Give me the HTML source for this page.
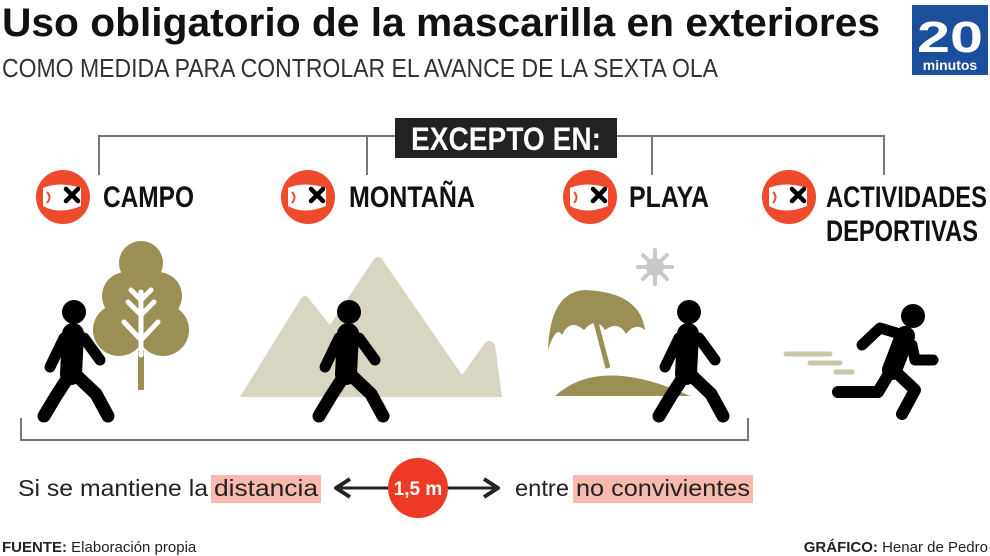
<!DOCTYPE html>
<html><head><meta charset="utf-8"><style>
body{margin:0;width:990px;height:556px;background:#fff;overflow:hidden;font-family:"Liberation Sans",sans-serif;}
svg{position:absolute;left:0;top:0}
</style></head><body>
<svg width="990" height="556" viewBox="0 0 990 556" xmlns="http://www.w3.org/2000/svg">
<defs>
<g id="walker">
 <circle cx="0" cy="0" r="12" fill="#000"/>
 <g stroke="#000" stroke-linecap="round" stroke-linejoin="round" fill="none">
  <line x1="-1" y1="22" x2="-3" y2="62" stroke-width="22"/>
  <polyline points="-10,26 -24,55" stroke-width="11"/>
  <polyline points="10,26 26,48" stroke-width="11"/>
  <polyline points="-5,64 -18,84 -30,104" stroke-width="13"/>
  <polyline points="3,64 22,82 34,104" stroke-width="13"/>
 </g>
</g>
<g id="mask">
 <circle cx="0" cy="0" r="27" fill="#ee4a2c"/>
 <path d="M-20,-9 Q-4,-16 18,-9 L18,9 Q-4,18 -20,9 Z" fill="#fff"/>
 <path d="M-16,-5 Q-11,0 -16,6" stroke="#ee4a2c" stroke-width="2" fill="none"/>
 <path d="M3,-8 L15,4 M15,-8 L3,4" stroke="#000" stroke-width="4.5" stroke-linecap="round"/>
</g>
</defs>

<text x="2" y="36" font-size="40" font-weight="bold" fill="#111" textLength="878" lengthAdjust="spacingAndGlyphs">Uso obligatorio de la mascarilla en exteriores</text>
<text x="2" y="77" font-size="26" fill="#333" textLength="716" lengthAdjust="spacingAndGlyphs">COMO MEDIDA PARA CONTROLAR EL AVANCE DE LA SEXTA OLA</text>
<rect x="912" y="5" width="76" height="70" fill="#1b4f9c"/>
<text x="950" y="52" font-size="44" font-weight="bold" fill="#fff" text-anchor="middle" textLength="66" lengthAdjust="spacingAndGlyphs">20</text>
<text x="950" y="70" font-size="14" font-weight="bold" fill="#fff" text-anchor="middle">minutos</text>

<g stroke="#777" stroke-width="2" fill="none">
 <polyline points="99,175 99,136 884,136 884,175"/>
 <line x1="367" y1="136" x2="367" y2="175"/>
 <line x1="652" y1="136" x2="652" y2="175"/>
 <polyline points="21,418 21,440 748,440 748,418"/>
</g>
<rect x="395" y="118" width="222" height="40" fill="#222"/>
<text x="506" y="150" font-size="32" font-weight="bold" fill="#fff" text-anchor="middle" textLength="190" lengthAdjust="spacingAndGlyphs">EXCEPTO EN:</text>

<use href="#mask" x="63" y="197"/>
<use href="#mask" x="308" y="197"/>
<use href="#mask" x="590" y="197"/>
<use href="#mask" x="789" y="197"/>
<g font-size="30" font-weight="bold" fill="#111">
<text x="103" y="207" textLength="91" lengthAdjust="spacingAndGlyphs">CAMPO</text>
<text x="349" y="207" textLength="126" lengthAdjust="spacingAndGlyphs">MONTAÑA</text>
<text x="629" y="207" textLength="80" lengthAdjust="spacingAndGlyphs">PLAYA</text>
<text x="826" y="207" textLength="161" lengthAdjust="spacingAndGlyphs">ACTIVIDADES</text>
<text x="826" y="241" textLength="152" lengthAdjust="spacingAndGlyphs">DEPORTIVAS</text>
</g>

<g fill="#9a8f55">
 <circle cx="141" cy="263" r="22"/>
 <circle cx="126" cy="296" r="24"/><circle cx="158" cy="296" r="24"/>
 <circle cx="119" cy="330" r="26"/><circle cx="163" cy="330" r="26"/><circle cx="141" cy="320" r="26"/>
 <rect x="138" y="350" width="6" height="40"/>
</g>
<g stroke="#fff" stroke-width="5" stroke-linecap="round" fill="none">
 <line x1="141" y1="292" x2="141" y2="355"/>
 <polyline points="128,302 141,315 154,302"/>
 <polyline points="124,322 141,340 158,322"/>
 <polyline points="131,290 141,300 151,290"/>
</g>
<use href="#walker" x="74" y="312"/>

<path d="M240,397 L300,300 Q305,292 310,300 L330,325 L372,262 Q378,252 384,262 L462,375 L485,343 Q490,338 495,345 L502,397 Z" fill="#d8d5c3"/>
<use href="#walker" x="349" y="312"/>

<g stroke="#c8c8c8" stroke-width="4" stroke-linecap="round">
 <line x1="655" y1="250" x2="655" y2="257"/><line x1="655" y1="277" x2="655" y2="284"/>
 <line x1="638" y1="267" x2="645" y2="267"/><line x1="665" y1="267" x2="672" y2="267"/>
 <line x1="643" y1="255" x2="648" y2="260"/><line x1="662" y1="274" x2="667" y2="279"/>
 <line x1="643" y1="279" x2="648" y2="274"/><line x1="662" y1="260" x2="667" y2="255"/>
</g>
<circle cx="655" cy="267" r="9" fill="#c8c8c8"/>
<path d="M548,350 Q550,292 585,290 Q640,292 645,330 Q635,322 626,334 Q618,320 605,330 Q596,316 584,330 Q570,318 562,335 Q556,325 548,350 Z" fill="#9a8f55"/>
<line x1="594" y1="315" x2="608" y2="368" stroke="#9a8f55" stroke-width="5"/>
<path d="M555,396 Q600,355 690,396 Z" fill="#9a8f55"/>
<use href="#walker" x="689" y="312"/>

<g stroke="#c9c7a6" stroke-width="5" stroke-linecap="round">
 <line x1="786" y1="354" x2="830" y2="354"/>
 <line x1="810" y1="363" x2="840" y2="363"/>
 <line x1="836" y1="372" x2="852" y2="372"/>
</g>
<circle cx="913" cy="316" r="12" fill="#000"/>
<g stroke="#000" stroke-linecap="round" stroke-linejoin="round" fill="none">
 <line x1="905" y1="336" x2="892" y2="370" stroke-width="20"/>
 <polyline points="900,334 880,328 862,345" stroke-width="11"/>
 <polyline points="912,345 915,360 933,360" stroke-width="11"/>
 <polyline points="890,372 878,392 838,392" stroke-width="12"/>
 <polyline points="896,372 915,390 902,414" stroke-width="12"/>
</g>

<rect x="211" y="475" width="110" height="28" fill="#f8b9ae"/>
<rect x="573" y="475" width="180" height="28" fill="#f8b9ae"/>
<g font-size="23" fill="#222">
<text x="18" y="496" textLength="190" lengthAdjust="spacingAndGlyphs">Si se mantiene la</text>
<text x="214" y="496" textLength="104" lengthAdjust="spacingAndGlyphs">distancia</text>
<text x="515" y="496" textLength="54" lengthAdjust="spacingAndGlyphs">entre</text>
<text x="576" y="496" textLength="174" lengthAdjust="spacingAndGlyphs">no convivientes</text>
</g>
<line x1="340" y1="488" x2="494" y2="488" stroke="#222" stroke-width="3"/>
<polyline points="350,479 336,488 350,497" stroke="#222" stroke-width="4" fill="none" stroke-linejoin="round"/>
<polyline points="484,479 498,488 484,497" stroke="#222" stroke-width="4" fill="none" stroke-linejoin="round"/>
<circle cx="418" cy="488" r="30" fill="#ee3a24"/>
<text x="418" y="495" font-size="19" font-weight="bold" fill="#fff" text-anchor="middle">1,5 m</text>

<text x="2" y="552" font-size="15" fill="#222"><tspan font-weight="bold">FUENTE:</tspan> Elaboración propia</text>
<text x="988" y="552" font-size="15" fill="#222" text-anchor="end"><tspan font-weight="bold">GRÁFICO:</tspan> Henar de Pedro</text>
</svg>
</body></html>
